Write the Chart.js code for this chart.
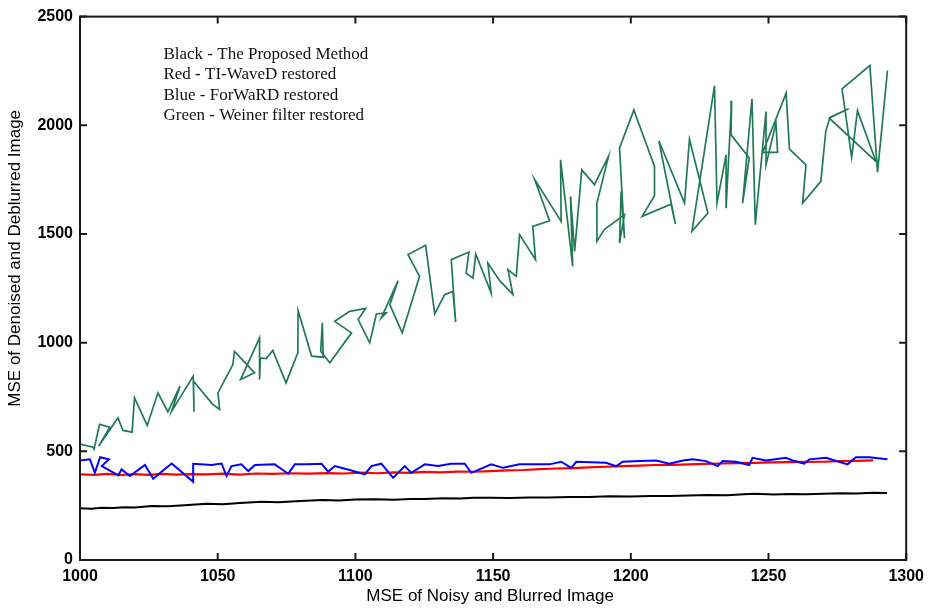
<!DOCTYPE html>
<html>
<head>
<meta charset="utf-8">
<script src="https://cdn.jsdelivr.net/npm/chart.js@4"></script>
<style>
html,body{margin:0;padding:0;background:#fff;}
#c{display:block;}
</style>
</head>
<body>
<canvas id="c" width="931" height="609"></canvas>
<script>
const xTitle = "MSE of Noisy and Blurred Image";
const yTitle = "MSE of Denoised and Deblurred Image";
const legendLines = ["Black - The Proposed Method","Red - TI-WaveD restored","Blue - ForWaRD restored","Green - Weiner filter restored"];

const blackX = [1000,1004,1008,1012,1016,1020,1026,1032,1038,1046,1052,1058,1066,1072,1080,1088,1094,1100,1107,1114,1120,1125,1132,1138,1143,1149,1156,1163,1170,1178,1185,1192,1200,1207,1214,1221,1228,1235,1241,1245,1252,1258,1264,1270,1276,1282,1288,1293];
const blackY = [238,236,240,239,243,242,248,247,252,259,257,262,268,266,272,276,274,278,279,277,281,281,284,283,286,286,285,288,287,290,290,293,292,295,294,297,299,298,302,305,301,304,303,305,307,306,309,308];

const redX = [1000,1005,1010,1015,1020,1025,1030,1035,1040,1046,1052,1058,1064,1070,1076,1083,1090,1096,1102,1108,1114,1119,1125,1131,1137,1143,1149,1155,1161,1167,1173,1179,1185,1191,1197,1203,1209,1215,1221,1227,1233,1239,1245,1251,1257,1263,1270,1276,1282,1288];
const redY = [394,392,396,391,395,392,396,393,395,394,397,393,398,396,399,397,400,398,402,399,403,401,405,403,407,406,409,412,414,418,421,423,426,429,432,434,437,438,440,442,444,446,447,449,450,451,452,455,456,458];

const blueX = [1000,1003.6,1005.4,1007.3,1010.5,1007.9,1013.9,1015.1,1018.1,1023.6,1026.6,1029.6,1033.3,1041.1,1041.1,1047.8,1051.4,1053.2,1055.0,1058.6,1061.1,1063.5,1070.7,1075.6,1078.0,1082.8,1087.7,1090.1,1092.5,1098.6,1103.4,1105.8,1109.4,1113.7,1117.9,1120.3,1125.2,1130.0,1134.8,1139.7,1142.1,1149.3,1153.6,1159.6,1170.5,1174.7,1178.4,1180.2,1191.0,1194.7,1197.1,1203.1,1209.2,1214.0,1218.9,1222.5,1227.3,1231.5,1233.4,1238.2,1243.0,1244.2,1249.1,1256.3,1258.8,1263.0,1264.8,1270.9,1278.7,1281.7,1286.6,1293.2];
const blueY = [458,463,401,473,463,432,389,417,386,437,374,406,444,360,443,437,444,386,432,440,409,437,440,397,440,440,443,406,432,412,394,432,443,378,432,401,440,432,443,443,401,440,424,440,440,452,424,452,447,432,452,455,458,443,458,463,455,432,455,452,437,470,458,470,458,443,463,470,440,473,473,463];

const greenX = [1000,1004.7,1005.1,1007.1,1010.8,1006.8,1013.8,1015.6,1018.9,1019.8,1024.4,1028.3,1031.9,1036.3,1033.3,1041.1,1041.4,1041.2,1048.2,1050.7,1050.1,1055.5,1056.1,1063.4,1058.3,1065.2,1065.2,1065.5,1067.6,1070.0,1074.8,1079.1,1079.2,1084.1,1088.3,1088.0,1087.4,1090.7,1098.6,1092.5,1097.9,1103.7,1101.0,1105.2,1107.6,1111.2,1109.4,1115.5,1112.5,1117.0,1123.3,1119.1,1125.5,1128.8,1132.4,1135.4,1136.4,1134.8,1141.2,1140.2,1142.7,1143.7,1149.3,1148.1,1152.4,1157.2,1155.4,1158.4,1159.6,1165.4,1164.4,1170.5,1165.1,1174.7,1174.5,1178.9,1178.1,1179.6,1182.2,1186.8,1191.9,1187.7,1187.7,1190.4,1197.7,1195.9,1196.5,1197.7,1195.9,1201.1,1208.6,1208.6,1204.1,1214.6,1216.2,1210.2,1219.5,1221.3,1228.0,1222.2,1230.4,1231.3,1234.6,1234.6,1236.6,1236.4,1243.0,1240.6,1244.0,1245.2,1249.1,1249.1,1252.7,1253.3,1247.9,1256.4,1257.6,1263.6,1262.4,1269.0,1270.8,1272.3,1279.1,1272.1,1289.0,1282.3,1280.2,1276.7,1286.8,1289.6,1293.2];
const greenY = [533,519,510,624,611,524,654,596,588,746,619,769,682,800,685,846,682,823,716,693,769,899,960,861,830,1022,830,930,927,964,815,953,1147,938,933,1091,960,907,1045,1098,1144,1157,1106,999,1132,1137,1114,1285,1175,1045,1305,1405,1448,1132,1221,1236,1095,1382,1417,1320,1297,1408,1228,1366,1285,1221,1336,1305,1497,1382,1535,1561,1750,1558,1841,1351,1673,1420,1795,1727,1857,1642,1466,1520,1589,1458,1696,1481,1895,2071,1811,1676,1581,1637,1546,1929,1642,1936,1596,1512,2182,1642,1864,1619,2113,1956,1849,1642,2122,1543,2063,1818,2010,1875,1875,2148,1890,1818,1642,1742,1972,2036,2076,2033,1834,2067,1852,2168,2275,1784,2252];

function pts(xs, ys){ return xs.map((x,i)=>({x:x, y:ys[i]})); }

const framePlugin = {
  id: 'frame',
  afterDatasetsDraw(chart){
    const ctx = chart.ctx, a = chart.chartArea;
    const xs = chart.scales.x, ys = chart.scales.y;
    ctx.save();
    ctx.strokeStyle = '#1a1a1a';
    ctx.lineWidth = 2;
    ctx.strokeRect(a.left, a.top, a.right - a.left, a.bottom - a.top);
    const tl = 7;
    ctx.beginPath();
    xs.ticks.forEach(t => {
      const px = xs.getPixelForValue(t.value);
      ctx.moveTo(px, a.bottom); ctx.lineTo(px, a.bottom - tl);
      ctx.moveTo(px, a.top); ctx.lineTo(px, a.top + tl);
    });
    ys.ticks.forEach(t => {
      const py = ys.getPixelForValue(t.value);
      ctx.moveTo(a.left, py); ctx.lineTo(a.left + tl, py);
      ctx.moveTo(a.right, py); ctx.lineTo(a.right - tl, py);
    });
    ctx.stroke();
    // legend text
    ctx.fillStyle = '#111';
    ctx.font = '17px "Liberation Serif", "Times New Roman", serif';
    ctx.textBaseline = 'middle';
    ctx.textAlign = 'left';
    const lx = xs.getPixelForValue(1030.3);
    legendLines.forEach((s,i) => ctx.fillText(s, lx, a.top + 38 + i*20.4));
    // axis titles
    ctx.fillStyle = '#000';
    ctx.font = '17px "Liberation Sans", Arial, sans-serif';
    ctx.textAlign = 'center';
    ctx.fillText(xTitle, (a.left + a.right)/2 - 3, 596);
    ctx.save();
    ctx.translate(15, (a.top + a.bottom)/2 - 30);
    ctx.rotate(-Math.PI/2);
    ctx.fillText(yTitle, 0, 0);
    ctx.restore();
    ctx.restore();
  }
};

const tickFont = {family: '"Liberation Sans", Arial, sans-serif', size: 16, weight: 'bold'};

new Chart(document.getElementById('c'), {
  type: 'scatter',
  data: {
    datasets: [
      {label:'Black', data: pts(blackX, blackY), showLine:true, borderColor:'#000000', borderWidth:2, pointRadius:0, tension:0, order:1},
      {label:'Blue', data: pts(blueX, blueY), showLine:true, borderColor:'#0000ff', borderWidth:2, pointRadius:0, tension:0, order:2},
      {label:'Red', data: pts(redX, redY), showLine:true, borderColor:'#ff0000', borderWidth:2.2, pointRadius:0, tension:0, order:3},
      {label:'Green', data: pts(greenX, greenY), showLine:true, borderColor:'#217a55', borderWidth:1.7, pointRadius:0, tension:0, order:4}
    ]
  },
  options: {
    responsive: false,
    animation: false,
    devicePixelRatio: 1,
    layout: {padding: {top: 15, right: 22, left: 0, bottom: 0}},
    plugins: {legend: {display:false}, tooltip: {enabled:false}},
    scales: {
      x: {
        type: 'linear', min: 1000, max: 1300,
        ticks: {stepSize: 50, font: tickFont, color: '#000', padding: 7, maxRotation: 0, callback: v => String(v)},
        grid: {display: false, drawTicks: false},
        border: {display: false},
        afterFit(s){ s.height = 49; }
      },
      y: {
        type: 'linear', min: 0, max: 2500,
        ticks: {stepSize: 500, font: tickFont, color: '#000', padding: 7, callback: v => String(v)},
        grid: {display: false, drawTicks: false},
        border: {display: false},
        afterFit(s){ s.width = 80; }
      }
    }
  },
  plugins: [framePlugin]
});
</script>
</body>
</html>
